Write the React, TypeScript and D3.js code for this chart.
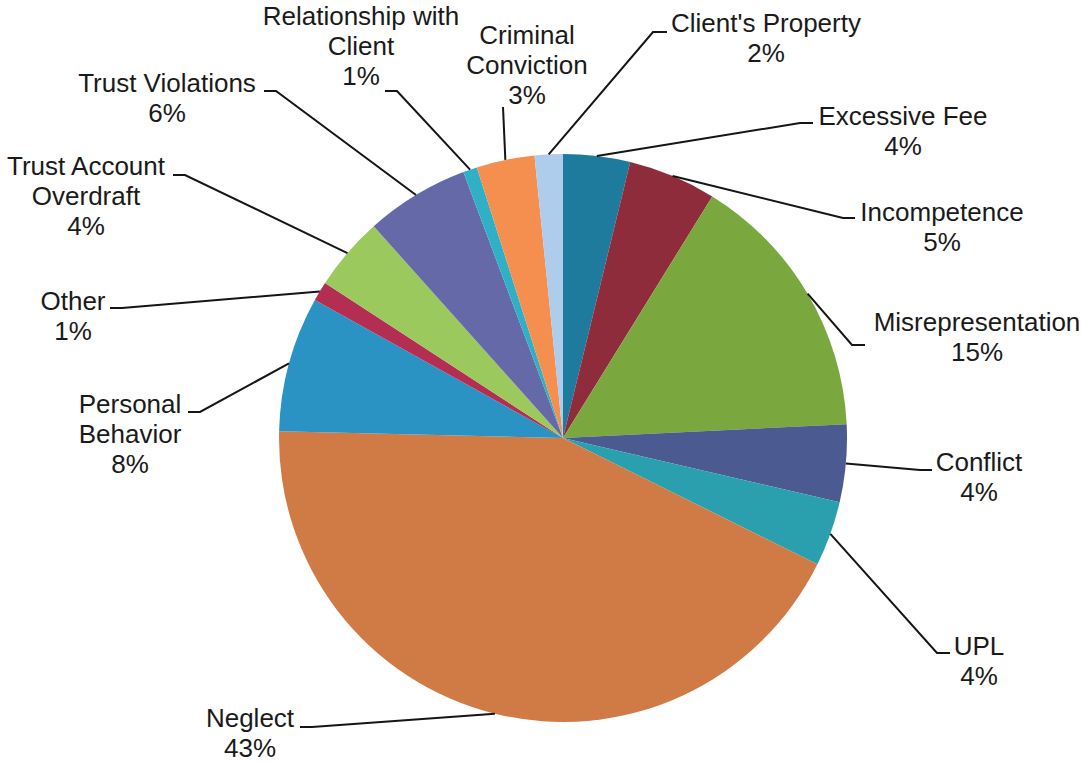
import React from "react";
import * as d3 from "d3";

const categories = [
  "Excessive Fee",
  "Incompetence",
  "Misrepresentation",
  "Conflict",
  "UPL",
  "Neglect",
  "Personal\nBehavior",
  "Other",
  "Trust Account\nOverdraft",
  "Trust Violations",
  "Relationship with\nClient",
  "Criminal\nConviction",
  "Client's Property",
];

const values = [3.8, 5.0, 15.4, 4.4, 3.7, 43.0, 7.7, 1.1, 4.2, 5.9, 0.8, 3.3, 1.6];

const colors = [
  "#1f7b9e",
  "#8e2c3c",
  "#7aa83f",
  "#4b5a90",
  "#2a9fae",
  "#d07a46",
  "#2b93c4",
  "#b32e52",
  "#9cc95e",
  "#6669a7",
  "#2fb0c6",
  "#f58f50",
  "#aeccec",
];

// label layout: text center x, first baseline y, elbow point, tip point
const labelX = [903, 942, 977, 979, 979, 250, 130, 73, 86, 167, 361, 527, 766];
const labelY = [125, 221, 331, 471, 655, 727, 413, 310, 175, 92, 25, 44, 32];
const elbows: [number, number][] = [
  [800, 123], [843, 218], [852, 345], [920, 470], [937, 653], [312, 727],
  [200, 412], [122, 308], [185, 175], [276, 91], [397, 91], [503, 107], [653, 32],
];
const tips: [number, number][] = [
  [813, 123], [855, 218], [865, 345], [932, 470], [950, 653], [300, 727],
  [188, 412], [110, 308], [173, 175], [264, 91], [385, 91], [503, 107], [667, 32],
];

const W = 1081;
const H = 762;
const CX = 563;
const CY = 438;
const R = 284;
const FONT = "'Liberation Sans', Arial, Helvetica, sans-serif";

export default function App() {
  const total = d3.sum(values);
  const pie = d3.pie<number>().sort(null).value((d) => d);
  const arcs = pie(values);
  const arc = d3.arc<d3.PieArcDatum<number>>().innerRadius(0).outerRadius(R);

  return (
    <svg
      width={W}
      height={H}
      style={{ position: "absolute", left: 0, top: 0, background: "#fff" }}
    >
      <g transform={`translate(${CX},${CY})`}>
        {arcs.map((a, i) => (
          <path key={i} d={arc(a) || ""} fill={colors[i]} />
        ))}
      </g>
      {arcs.map((a, i) => {
        const mid = (a.startAngle + a.endAngle) / 2;
        const ax = CX + R * Math.sin(mid);
        const ay = CY - R * Math.cos(mid);
        const pts = [tips[i], elbows[i], [ax, ay]];
        const line = d3.line()(pts as [number, number][]);
        return (
          <path
            key={"l" + i}
            d={line || ""}
            fill="none"
            stroke="#151515"
            strokeWidth={2}
          />
        );
      })}
      {categories.map((c, i) => {
        const pct = Math.round((values[i] / total) * 100) + "%";
        const lines = [...c.split("\n"), pct];
        return (
          <text
            key={"t" + i}
            x={labelX[i]}
            y={labelY[i]}
            textAnchor="middle"
            fontFamily={FONT}
            fontSize={26}
            fill="#1a1a1a"
          >
            {lines.map((ln, j) => (
              <tspan key={j} x={labelX[i]} dy={j === 0 ? 0 : 30}>
                {ln}
              </tspan>
            ))}
          </text>
        );
      })}
    </svg>
  );
}
